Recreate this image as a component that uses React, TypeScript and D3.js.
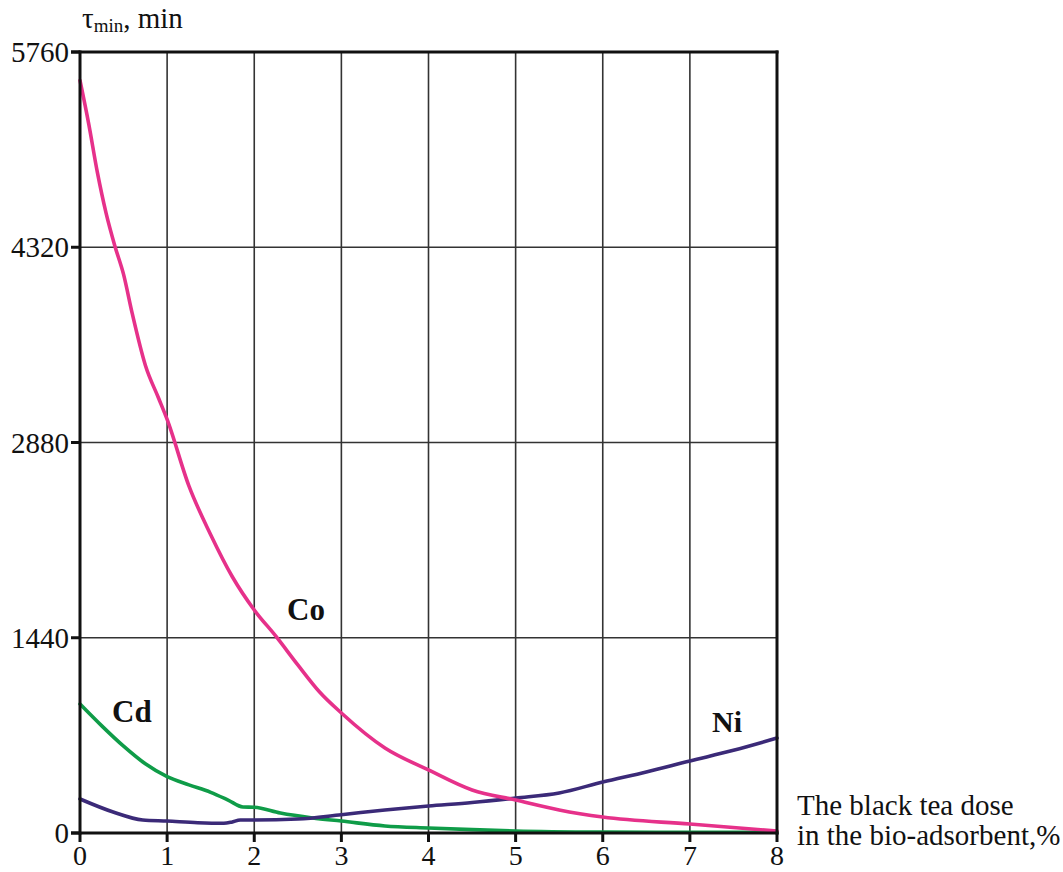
import React from "react";
import * as d3 from "d3";

// Black tea dose in the bio-adsorbent, %
const coDose = [0, 0.1, 0.2, 0.3, 0.4, 0.5, 0.6, 0.75, 0.9, 1, 1.25, 1.5, 1.75, 2, 2.25, 2.5, 2.75, 3, 3.5, 4, 4.5, 5, 5.5, 6, 7, 8];
const coTime = [5550, 5230, 4870, 4570, 4330, 4120, 3830, 3450, 3210, 3050, 2560, 2200, 1888, 1645, 1450, 1240, 1040, 885, 627, 465, 317, 243, 170, 118, 66, 15];

const cdDose = [0, 0.25, 0.5, 0.75, 1, 1.25, 1.5, 1.7, 1.87, 2, 2.3, 2.67, 3, 3.5, 4, 4.5, 5, 6, 7, 8];
const cdTime = [951, 790, 640, 510, 415, 355, 300, 243, 192, 190, 147, 111, 88, 52, 37, 25, 15, 7, 5, 5];

const niDose = [0, 0.38, 0.72, 1, 1.35, 1.65, 1.74, 1.84, 2, 2.5, 3, 3.5, 4, 4.5, 5, 5.5, 6, 6.5, 7, 7.5, 8];
const niTime = [251, 155, 96, 88, 76, 72, 80, 96, 96, 103, 135, 170, 199, 225, 258, 295, 376, 450, 531, 610, 700];

const xTicks = [0, 1, 2, 3, 4, 5, 6, 7, 8];
const yTicks = [0, 1440, 2880, 4320, 5760];

const W = 1063;
const H = 872;
const serif = "'Liberation Serif', 'Times New Roman', serif";

export default function App() {
  const x = d3.scaleLinear().domain([0, 8]).range([80, 777]);
  const y = d3.scaleLinear().domain([0, 5760]).range([833, 52]);

  const line = d3
    .line<[number, number]>()
    .x((d) => x(d[0]))
    .y((d) => y(d[1]))
    .curve(d3.curveMonotoneX);

  const series = [
    { dose: cdDose, time: cdTime, color: "#0f9c48" },
    { dose: niDose, time: niTime, color: "#3b2a78" },
    { dose: coDose, time: coTime, color: "#e6318a" },
  ];

  return (
    <svg
      width={W}
      height={H}
      style={{ position: "absolute", left: 0, top: 0, background: "#fff" }}
      fontFamily={serif}
    >
      {/* grid */}
      {xTicks.slice(1, -1).map((t) => (
        <line key={"gx" + t} x1={x(t)} x2={x(t)} y1={y(5760)} y2={y(0)} stroke="#333" strokeWidth={1.6} />
      ))}
      {yTicks.slice(1, -1).map((t) => (
        <line key={"gy" + t} x1={x(0)} x2={x(8)} y1={y(t)} y2={y(t)} stroke="#333" strokeWidth={1.6} />
      ))}

      {/* curves */}
      {series.map((s, i) => (
        <path
          key={i}
          d={line(s.dose.map((d, j) => [d, s.time[j]] as [number, number])) || ""}
          fill="none"
          stroke={s.color}
          strokeWidth={3.6}
          strokeLinejoin="round"
          strokeLinecap="round"
        />
      ))}

      {/* frame */}
      <line x1={x(0)} x2={x(0)} y1={y(5760) - 1.5} y2={y(0) + 1.5} stroke="#111" strokeWidth={3} />
      <line x1={x(8)} x2={x(8)} y1={y(5760) - 1.5} y2={y(0) + 1.5} stroke="#111" strokeWidth={3} />
      <line x1={x(0) - 9} x2={x(8) + 1.5} y1={y(0)} y2={y(0)} stroke="#111" strokeWidth={3} />
      <line x1={x(0) - 9} x2={x(8) + 1.5} y1={y(5760)} y2={y(5760)} stroke="#111" strokeWidth={3} />

      {/* y ticks */}
      {yTicks.map((t) => (
        <g key={"yt" + t}>
          <line x1={x(0) - 9} x2={x(0)} y1={y(t)} y2={y(t)} stroke="#111" strokeWidth={3} />
          <text x={69} y={y(t) + 10} textAnchor="end" fontSize={29} fill="#111">
            {t}
          </text>
        </g>
      ))}

      {/* x ticks */}
      {xTicks.map((t) => (
        <g key={"xt" + t}>
          <line x1={x(t)} x2={x(t)} y1={y(0)} y2={y(0) + 9} stroke="#111" strokeWidth={3} />
          <text x={x(t)} y={865} textAnchor="middle" fontSize={28} fill="#111">
            {t}
          </text>
        </g>
      ))}

      {/* axis titles */}
      <text x={82} y={28} fontSize={29} fill="#111">
        τ<tspan fontSize={19} dy={4}>min</tspan>
        <tspan dy={-4}>, min</tspan>
      </text>
      <text x={797} y={815} fontSize={29} fill="#111">
        The black tea dose
      </text>
      <text x={797} y={845} fontSize={29} fill="#111">
        in the bio-adsorbent,%
      </text>

      {/* series labels */}
      <text x={287} y={620} fontSize={31} fontWeight="bold" fill="#111">Co</text>
      <text x={112} y={722} fontSize={31} fontWeight="bold" fill="#111">Cd</text>
      <text x={712} y={732} fontSize={30} fontWeight="bold" fill="#111">Ni</text>
    </svg>
  );
}
